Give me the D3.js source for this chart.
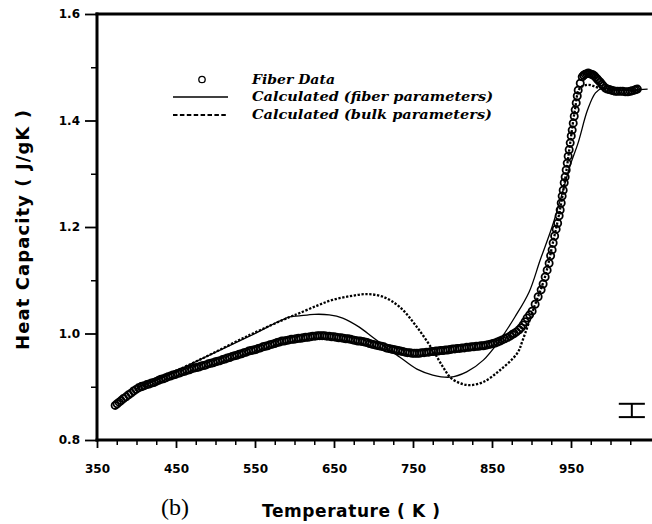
<!DOCTYPE html>
<html>
<head>
<meta charset="utf-8">
<script src="https://cdn.jsdelivr.net/npm/d3@7"></script>
<style>
  html, body { margin: 0; padding: 0; background: #fff; }
  svg { display: block; }
</style>
</head>
<body>
<svg id="chart" width="652" height="524"></svg>
<script>
// ---------------- data ----------------
const xMajorTicks = [350, 450, 550, 650, 750, 850, 950];
const xMinorTicks = [375, 400, 425, 475, 500, 525, 575, 600, 625, 675, 700, 725, 775, 800, 825, 875, 900, 925, 975, 1000, 1025];
const yMajorTicks = [0.8, 1.0, 1.2, 1.4, 1.6];
const yMinorTicks = [0.9, 1.1, 1.3, 1.5];

const legendLabels = ["Fiber Data", "Calculated (fiber parameters)", "Calculated (bulk parameters)"];

// Fiber data (open circles): [temperature K, heat capacity J/gK]
const fiberData = [
  [373, 0.865], [375.5, 0.868], [378, 0.871], [380.5, 0.874], [383.5, 0.878], [386.8, 0.881],
  [390, 0.885], [393.1, 0.888], [396.3, 0.892], [399.5, 0.895], [402.5, 0.898], [405.8, 0.900],
  [407, 0.901], [410, 0.902], [413, 0.904], [416, 0.905], [419, 0.907], [422, 0.908], [425, 0.910],
  [428, 0.912], [431, 0.914], [434, 0.915], [437, 0.917], [440, 0.919], [443, 0.920], [446, 0.922],
  [449, 0.923], [452, 0.925], [455, 0.926], [458, 0.928], [461, 0.929], [464, 0.931], [467, 0.932],
  [470, 0.934], [473, 0.935], [476, 0.936], [479, 0.937], [482, 0.939], [485, 0.940], [488, 0.941],
  [491, 0.943], [494, 0.944], [497, 0.945], [500, 0.947], [503, 0.948], [506, 0.949], [509, 0.951],
  [512, 0.952], [515, 0.954], [518, 0.955], [521, 0.957], [524, 0.958], [527, 0.959], [530, 0.961],
  [533, 0.962], [536, 0.964], [539, 0.965], [542, 0.967], [545, 0.968], [548, 0.969], [551, 0.970],
  [554, 0.972], [557, 0.973], [560, 0.975], [563, 0.976], [566, 0.977], [569, 0.979], [572, 0.980],
  [575, 0.981], [578, 0.983], [581, 0.984], [584, 0.986], [587, 0.986], [590, 0.987], [593, 0.988],
  [596, 0.989], [599, 0.989], [602, 0.990], [605, 0.991], [608, 0.991], [611, 0.992], [614, 0.993],
  [617, 0.993], [620, 0.994], [623, 0.995], [626, 0.995], [629, 0.996], [632, 0.996], [635, 0.996],
  [638, 0.996], [641, 0.995], [644, 0.995], [647, 0.994], [650, 0.994], [653, 0.993], [656, 0.992],
  [659, 0.992], [662, 0.991], [665, 0.990], [668, 0.990], [671, 0.989], [674, 0.988], [677, 0.987],
  [680, 0.986], [683, 0.986], [686, 0.985], [689, 0.984], [692, 0.983], [695, 0.981], [698, 0.980],
  [701, 0.979], [704, 0.978], [707, 0.977], [710, 0.976], [713, 0.975], [716, 0.973], [719, 0.972],
  [722, 0.971], [725, 0.970], [728, 0.969], [731, 0.968], [734, 0.967], [737, 0.966], [740, 0.965],
  [743, 0.964], [746, 0.964], [749, 0.963], [752, 0.963], [755, 0.963], [758, 0.963], [761, 0.964],
  [764, 0.964], [767, 0.965], [770, 0.965], [773, 0.966], [776, 0.966], [779, 0.967], [782, 0.967],
  [785, 0.968], [788, 0.968], [791, 0.969], [794, 0.969], [797, 0.970], [800, 0.971], [803, 0.971],
  [806, 0.972], [809, 0.972], [812, 0.973], [815, 0.973], [818, 0.974], [821, 0.974], [824, 0.975],
  [827, 0.975], [830, 0.976], [833, 0.976], [836, 0.977], [839, 0.977], [842, 0.978], [845, 0.979],
  [848, 0.980], [851, 0.981], [854, 0.982], [857, 0.984], [860, 0.986], [863, 0.988], [866, 0.990],
  [869, 0.992], [872.8, 0.995], [875.5, 0.998], [877.9, 1.000], [880.9, 1.003], [884.3, 1.007],
  [886.8, 1.011], [889.3, 1.016], [891.9, 1.022], [894.4, 1.029], [897.6, 1.035], [900.8, 1.042],
  [904.6, 1.055], [908.4, 1.069], [912.2, 1.082], [914.7, 1.093], [917.3, 1.106], [919.8, 1.119],
  [922.3, 1.132], [924.2, 1.146], [926.1, 1.157], [927.4, 1.170], [929.3, 1.183], [931.2, 1.196],
  [933.1, 1.207], [935, 1.221], [936.3, 1.232], [937.6, 1.245], [938.8, 1.258], [940.1, 1.269],
  [941.4, 1.283], [942.6, 1.294], [943.9, 1.307], [945.2, 1.320], [946.4, 1.333], [947.7, 1.345],
  [949, 1.358], [950.3, 1.371], [951.5, 1.382], [952.8, 1.395], [954.1, 1.408], [955.3, 1.420],
  [956.6, 1.433], [957.9, 1.446], [959.1, 1.457], [961.7, 1.470], [964.2, 1.482], [966, 1.485],
  [968, 1.487], [970, 1.488], [971.8, 1.489], [973.5, 1.488], [975.6, 1.487], [977.5, 1.486],
  [979.4, 1.484], [981.3, 1.481], [983.2, 1.478], [985, 1.475], [987.1, 1.472], [989, 1.468],
  [990.9, 1.465], [993.5, 1.461], [995.9, 1.459], [998.5, 1.458], [1001, 1.457], [1003.5, 1.456],
  [1006.1, 1.455], [1009, 1.455], [1012.4, 1.455], [1015.5, 1.455], [1018.8, 1.454], [1022, 1.454],
  [1025.1, 1.455], [1027.5, 1.456], [1030.2, 1.457], [1032, 1.458], [1034, 1.459]
];

// Calculated (fiber parameters) - solid line
const fiberParT  = [403, 432, 479, 543, 594, 606, 625, 644, 661, 682, 699, 717, 733, 755, 775, 797, 818, 839, 860, 879, 897, 911, 926, 939, 949, 959, 971, 981, 990, 1006, 1047];
const fiberParCp = [0.900, 0.916, 0.950, 0.995, 1.031, 1.033, 1.036, 1.035, 1.029, 1.012, 0.993, 0.973, 0.956, 0.933, 0.922, 0.918, 0.928, 0.950, 0.988, 1.031, 1.078, 1.138, 1.200, 1.264, 1.316, 1.358, 1.420, 1.452, 1.461, 1.457, 1.459];

// Calculated (bulk parameters) - dotted line
const bulkParT  = [403, 432, 479, 543, 594, 606, 628, 648, 670, 691, 712, 733, 755, 775, 788, 797, 809, 822, 839, 860, 882, 889, 902, 917, 927, 936, 943, 949, 955, 961, 971, 987, 1034];
const bulkParCp = [0.900, 0.918, 0.950, 0.997, 1.031, 1.038, 1.052, 1.063, 1.070, 1.074, 1.069, 1.050, 1.012, 0.969, 0.937, 0.918, 0.907, 0.903, 0.909, 0.931, 0.963, 0.988, 1.044, 1.106, 1.170, 1.232, 1.294, 1.358, 1.420, 1.460, 1.467, 1.461, 1.457];

// Error bar
const errT = 1027, errLow = 0.843, errHigh = 0.868, errHalfWidthT = 16.5;

// ---------------- drawing ----------------
const W = 652, H = 524;
const svg = d3.select("#chart");
svg.append("rect").attr("width", W).attr("height", H).attr("fill", "#fff");

const x = d3.scaleLinear().domain([350, 1050]).range([97, 650]);
const y = d3.scaleLinear().domain([0.8, 1.6]).range([440, 14]);

const tickFont = "'DejaVu Sans', sans-serif";

// Minor ticks
svg.append("g").attr("transform", "translate(0,440)")
  .call(d3.axisBottom(x).tickValues(xMinorTicks).tickSize(5).tickSizeOuter(0).tickFormat(""))
  .call(g => g.select(".domain").remove())
  .call(g => g.selectAll("line").attr("stroke", "#000").attr("stroke-width", 1.5));
svg.append("g").attr("transform", "translate(97,0)")
  .call(d3.axisLeft(y).tickValues(yMinorTicks).tickSize(6).tickSizeOuter(0).tickFormat(""))
  .call(g => g.select(".domain").remove())
  .call(g => g.selectAll("line").attr("stroke", "#000").attr("stroke-width", 1.5));

// Major x axis
svg.append("g").attr("transform", "translate(0,440)")
  .call(d3.axisBottom(x).tickValues(xMajorTicks).tickSize(8).tickSizeOuter(0).tickPadding(16).tickFormat(d3.format("d")))
  .call(g => g.select(".domain").remove())
  .call(g => g.selectAll(".tick line").attr("stroke", "#000").attr("stroke-width", 1.8))
  .call(g => g.selectAll("text").attr("fill", "#000").attr("font-family", tickFont)
    .attr("font-weight", "bold").attr("font-size", 12));

// Major y axis
svg.append("g").attr("transform", "translate(97,0)")
  .call(d3.axisLeft(y).tickValues(yMajorTicks).tickSize(12).tickSizeOuter(0).tickPadding(5).tickFormat(d3.format(".1f")))
  .call(g => g.select(".domain").remove())
  .call(g => g.selectAll(".tick line").attr("stroke", "#000").attr("stroke-width", 1.8))
  .call(g => g.selectAll("text").attr("fill", "#000").attr("font-family", tickFont)
    .attr("font-weight", "bold").attr("font-size", 12));

// Frame lines (left, bottom, top)
const frame = svg.append("g").attr("stroke", "#000").attr("stroke-width", 3).attr("stroke-linecap", "square");
frame.append("line").attr("x1", x(350)).attr("x2", x(350)).attr("y1", y(1.6)).attr("y2", y(0.8));
frame.append("line").attr("x1", x(350)).attr("x2", W).attr("y1", y(0.8)).attr("y2", y(0.8));
frame.append("line").attr("x1", x(350)).attr("x2", W).attr("y1", y(1.6)).attr("y2", y(1.6));

// Lines
const line = d3.line().x(d => x(d[0])).y(d => y(d[1])).curve(d3.curveCatmullRom.alpha(0.5));
const fiberParData = fiberParT.map((t, i) => [t, fiberParCp[i]]);
const bulkParData = bulkParT.map((t, i) => [t, bulkParCp[i]]);

svg.append("path").datum(bulkParData).attr("d", line)
  .attr("fill", "none").attr("stroke", "#000").attr("stroke-width", 2.3)
  .attr("stroke-dasharray", "2.3,1.6");
svg.append("path").datum(fiberParData).attr("d", line)
  .attr("fill", "none").attr("stroke", "#000").attr("stroke-width", 1.3);

// Fiber data circles
svg.append("g").selectAll("circle").data(fiberData).join("circle")
  .attr("cx", d => x(d[0])).attr("cy", d => y(d[1])).attr("r", 3.6)
  .attr("fill", "none").attr("stroke", "#000").attr("stroke-width", 1.8);

// Error bar
const eg = svg.append("g").attr("stroke", "#000").attr("stroke-width", 2);
eg.append("line").attr("x1", x(errT)).attr("x2", x(errT)).attr("y1", y(errHigh)).attr("y2", y(errLow));
eg.append("line").attr("x1", x(errT - errHalfWidthT)).attr("x2", x(errT + errHalfWidthT)).attr("y1", y(errHigh)).attr("y2", y(errHigh));
eg.append("line").attr("x1", x(errT - errHalfWidthT)).attr("x2", x(errT + errHalfWidthT)).attr("y1", y(errLow)).attr("y2", y(errLow));

// Legend
const legFont = "'DejaVu Serif', serif";
const lg = svg.append("g");
lg.append("circle").attr("cx", 202).attr("cy", 79.5).attr("r", 3.2)
  .attr("fill", "none").attr("stroke", "#000").attr("stroke-width", 1.3);
lg.append("line").attr("x1", 173).attr("x2", 228).attr("y1", 97).attr("y2", 97)
  .attr("stroke", "#000").attr("stroke-width", 1.4);
lg.append("line").attr("x1", 173).attr("x2", 228).attr("y1", 115).attr("y2", 115)
  .attr("stroke", "#000").attr("stroke-width", 2.2).attr("stroke-dasharray", "4.5,2.4");
const legY = [83.5, 100.5, 118.5];
const legW = [83, 241, 240];
legendLabels.forEach((t, i) => {
  lg.append("text").attr("x", 252).attr("y", legY[i]).text(t)
    .attr("font-family", legFont).attr("font-weight", "bold").attr("font-style", "italic")
    .attr("font-size", 12.5).attr("textLength", legW[i]).attr("lengthAdjust", "spacingAndGlyphs");
});

// Axis titles
svg.append("text").attr("transform", "translate(29,230) rotate(-90)")
  .attr("text-anchor", "middle").text("Heat Capacity ( J/gK )")
  .attr("font-family", tickFont).attr("font-weight", "bold").attr("font-size", 18)
  .attr("textLength", 240).attr("lengthAdjust", "spacing");
svg.append("text").attr("x", 262).attr("y", 517).text("Temperature ( K )")
  .attr("font-family", tickFont).attr("font-weight", "bold").attr("font-size", 17)
  .attr("textLength", 178).attr("lengthAdjust", "spacing");
svg.append("text").attr("x", 161).attr("y", 515).text("(b)")
  .attr("font-family", "'Liberation Serif', serif").attr("font-size", 24);
</script>
</body>
</html>
